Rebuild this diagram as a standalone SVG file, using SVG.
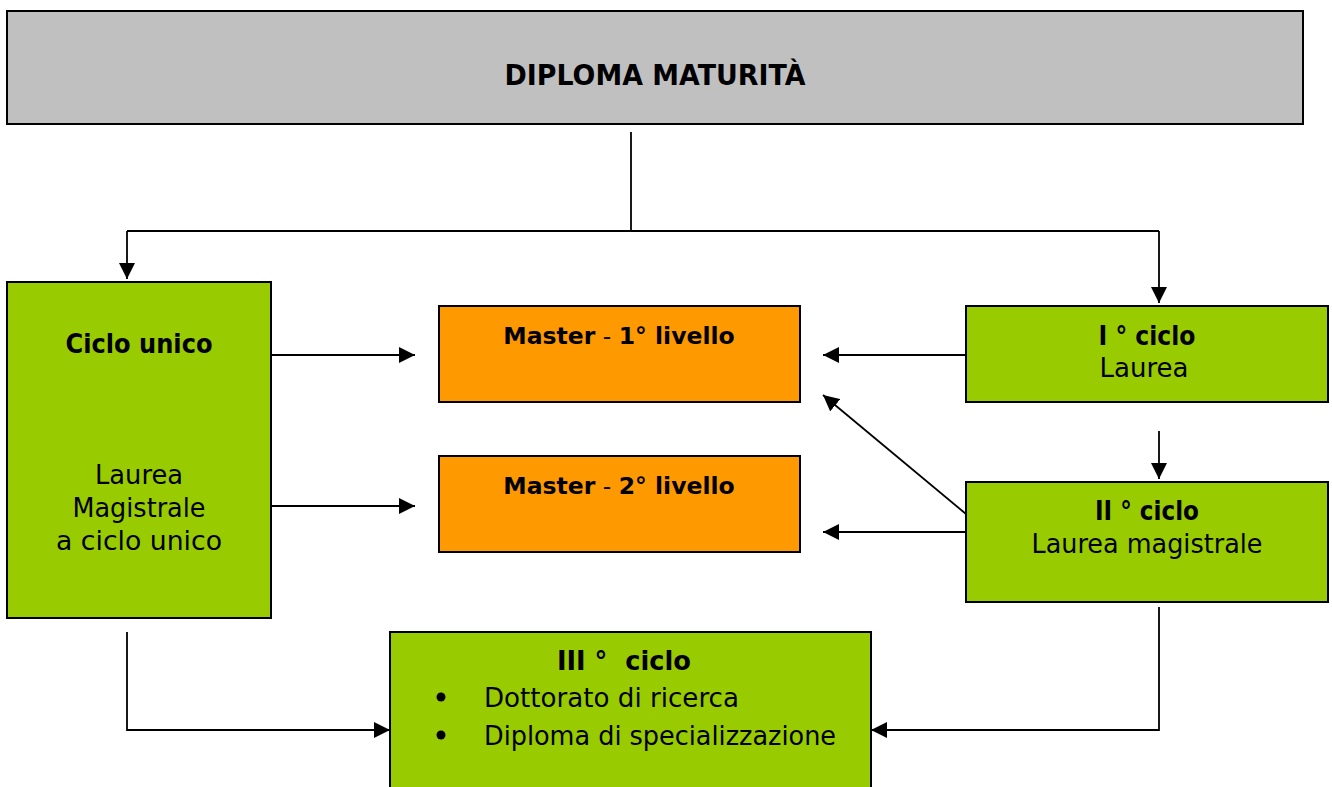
<svg xmlns="http://www.w3.org/2000/svg" width="1332" height="787" viewBox="0 0 1332 787">
<style>
text{font-family:"DejaVu Sans","Liberation Sans",sans-serif;font-size:26px;fill:#000;text-anchor:middle}
.b{font-weight:bold}
.m{font-size:23.5px}
.box{stroke:#000;stroke-width:2}
.g{fill:#99cc00}
.o{fill:#ff9900}
.c{fill:none;stroke:#000;stroke-width:1.8}
</style>
<defs>
<marker id="ah" markerUnits="userSpaceOnUse" markerWidth="17" markerHeight="16" refX="16" refY="8" orient="auto">
<path d="M0,0 L16,8 L0,16 z" fill="#000"/>
</marker>
</defs>
<g id="diploma">
<rect class="box" x="7" y="11" width="1296" height="113" fill="#c0c0c0"/>
<text class="b" x="655" y="85" style="font-size:29px" textLength="301" lengthAdjust="spacingAndGlyphs">DIPLOMA MATURITÀ</text>
</g>
<g id="ciclo-unico">
<rect class="box g" x="7" y="282" width="264" height="336"/>
<text class="b" x="139" y="353" textLength="147" lengthAdjust="spacingAndGlyphs">Ciclo unico</text>
<text x="139" y="484" textLength="88" lengthAdjust="spacingAndGlyphs">Laurea</text>
<text x="139" y="517" textLength="133" lengthAdjust="spacingAndGlyphs">Magistrale</text>
<text x="139" y="550" textLength="166" lengthAdjust="spacingAndGlyphs">a ciclo unico</text>
</g>
<g id="master1">
<rect class="box o" x="439" y="306" width="361" height="96"/>
<text class="m" x="619" y="344"><tspan class="b">Master</tspan> - <tspan class="b">1° livello</tspan></text>
</g>
<g id="master2">
<rect class="box o" x="439" y="456" width="361" height="96"/>
<text class="m" x="619" y="494"><tspan class="b">Master</tspan> - <tspan class="b">2° livello</tspan></text>
</g>
<g id="ciclo1">
<rect class="box g" x="966" y="306" width="362" height="96"/>
<text class="b" x="1147" y="345" textLength="97" lengthAdjust="spacingAndGlyphs">I ° ciclo</text>
<text x="1144" y="377" textLength="89" lengthAdjust="spacingAndGlyphs">Laurea</text>
</g>
<g id="ciclo2">
<rect class="box g" x="966" y="482" width="362" height="120"/>
<text class="b" x="1147" y="520" textLength="104" lengthAdjust="spacingAndGlyphs">II ° ciclo</text>
<text x="1147" y="553" textLength="231" lengthAdjust="spacingAndGlyphs">Laurea magistrale</text>
</g>
<g id="ciclo3">
<rect class="box g" x="390" y="632" width="481" height="160"/>
<text class="b" x="624" y="670" xml:space="preserve" textLength="134" lengthAdjust="spacingAndGlyphs">III °  ciclo</text>
<circle cx="441" cy="697" r="4.5" fill="#000"/>
<circle cx="441" cy="735" r="4.5" fill="#000"/>
<text x="484" y="707" style="text-anchor:start" textLength="255" lengthAdjust="spacingAndGlyphs">Dottorato di ricerca</text>
<text x="484" y="745" style="text-anchor:start" textLength="352" lengthAdjust="spacingAndGlyphs">Diploma di specializzazione</text>
</g>
<g id="connectors">
<path class="c" d="M631 132 V231"/>
<path class="c" d="M127 231 H1159"/>
<path class="c" d="M127 231 V279" marker-end="url(#ah)"/>
<path class="c" d="M1159 231 V303" marker-end="url(#ah)"/>
<path class="c" d="M271 355 H415" marker-end="url(#ah)"/>
<path class="c" d="M271 506 H415" marker-end="url(#ah)"/>
<path class="c" d="M966 355 H823" marker-end="url(#ah)"/>
<path class="c" d="M966 532 H823" marker-end="url(#ah)"/>
<path class="c" d="M966 514 L823 395" marker-end="url(#ah)"/>
<path class="c" d="M1159 431 V479" marker-end="url(#ah)"/>
<path class="c" d="M127 632 V730 H390" marker-end="url(#ah)"/>
<path class="c" d="M1159 607 V730 H871" marker-end="url(#ah)"/>
</g>
</svg>
